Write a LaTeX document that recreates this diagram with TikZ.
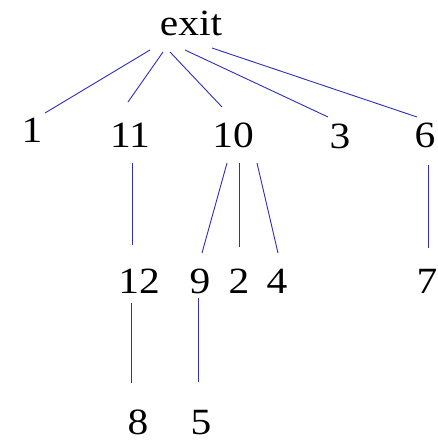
\documentclass[tikz,border=0pt]{standalone}
\usepackage{fontspec}
\setmainfont[FakeStretch=1.12]{Liberation Serif}
\definecolor{edgeblue}{RGB}{45,45,190}
\begin{document}
\begin{tikzpicture}[x=1pt,y=-1pt,
  lbl/.style={inner sep=0pt,anchor=base,font=\fontsize{37}{40}\selectfont},
  edge/.style={draw=edgeblue,line width=0.9pt}]
\clip (0,0) rectangle (437,442);
\fill[white] (0,0) rectangle (437,442);
\node[lbl] (exit) at (191,35) {exit};
\node[lbl] (n1) at (32,142) {1};
\node[lbl] (n11) at (130,147) {11};
\node[lbl] (n10) at (233,147) {10};
\node[lbl] (n3) at (340,148) {3};
\node[lbl] (n6) at (425,147) {6};
\node[lbl] (n12) at (139,293) {12};
\node[lbl] (n9) at (200,293) {9};
\node[lbl] (n2) at (239,293) {2};
\node[lbl] (n4) at (277,293) {4};
\node[lbl] (n7) at (427,293) {7};
\node[lbl] (n8) at (138,434) {8};
\node[lbl] (n5) at (201,434) {5};
\draw[edge] ([shift={(-41,15)}]exit.base) -- ([shift={(13,-29)}]n1.base);
\draw[edge] ([shift={(-28,17)}]exit.base) -- ([shift={(-2,-45)}]n11.base);
\draw[edge] ([shift={(-21,17)}]exit.base) -- ([shift={(-11,-40)}]n10.base);
\draw[edge] ([shift={(-6,15)}]exit.base) -- ([shift={(-12,-31)}]n3.base);
\draw[edge] ([shift={(21,13)}]exit.base) -- ([shift={(-8,-30)}]n6.base);
\draw[edge] ([shift={(2,16)}]n11.base) -- ([shift={(-7,-48)}]n12.base);
\draw[edge] ([shift={(-6,16)}]n10.base) -- ([shift={(2,-40)}]n9.base);
\draw[edge] ([shift={(6,16)}]n10.base) -- ([shift={(0,-46)}]n2.base);
\draw[edge] ([shift={(24,16)}]n10.base) -- ([shift={(1,-40)}]n4.base);
\draw[edge] ([shift={(3,18)}]n6.base) -- ([shift={(1,-45)}]n7.base);
\draw[edge] ([shift={(-8,10)}]n12.base) -- ([shift={(-7,-51)}]n8.base);
\draw[edge] ([shift={(-2,5)}]n9.base) -- ([shift={(-3,-52)}]n5.base);
\end{tikzpicture}
\end{document}
